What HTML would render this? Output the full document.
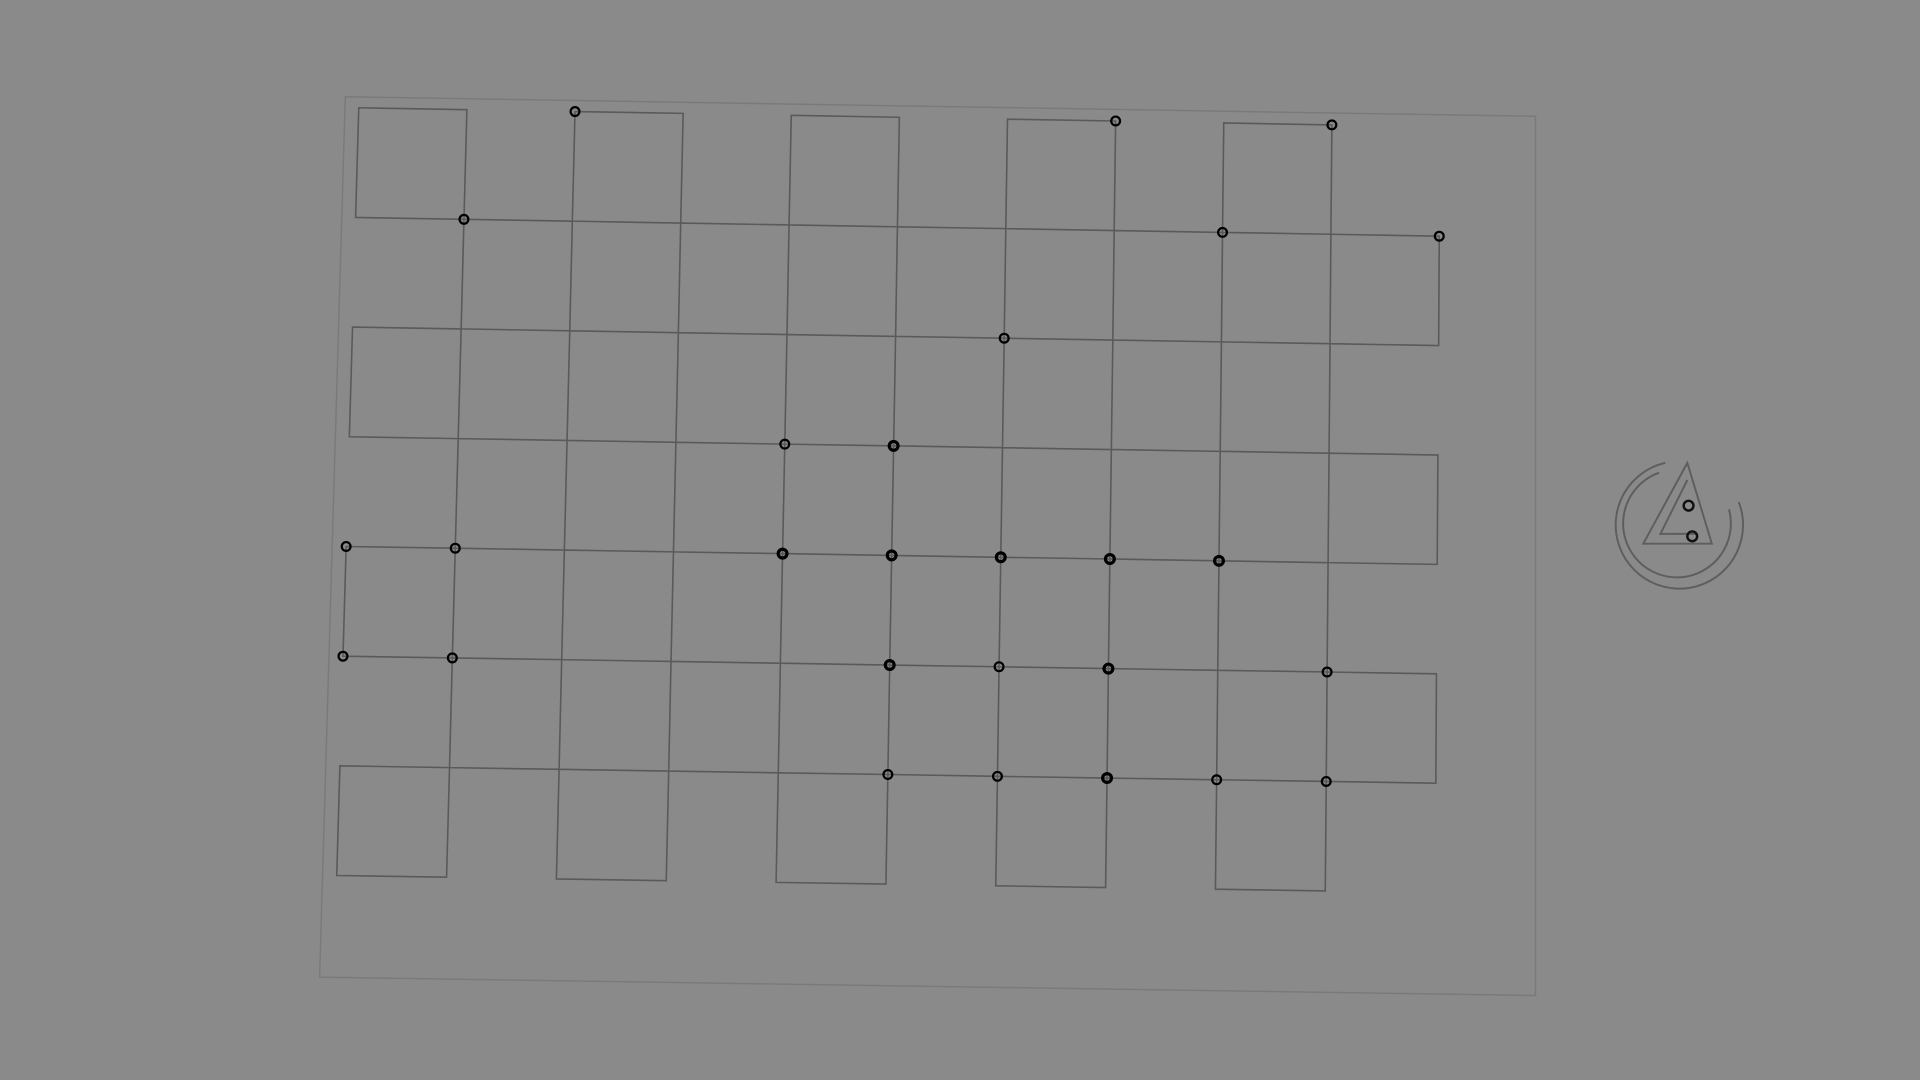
<!DOCTYPE html>
<html><head><meta charset="utf-8"><style>
html,body{margin:0;padding:0;background:#8a8a8a;width:1920px;height:1080px;overflow:hidden;font-family:"Liberation Sans",sans-serif}
svg{display:block}
</style></head><body>
<svg id="chart" width="1920" height="1080" viewBox="0 0 1568 882" xmlns="http://www.w3.org/2000/svg">
<rect x="0" y="0" width="1568" height="882" fill="#8a8a8a"/>
<polygon points="282,79 1254,95 1254,813 261,798" fill="none" stroke="#7a7a7a" stroke-width="1.2"/>
<g id="cells"></g>
<g id="markers"></g>
<g fill="none" stroke="#5e5e5e" stroke-width="1.6">
<path d="M1360,378 A52,52 0 1,0 1420,410"/>
<path d="M1355,386 A44,44 0 1,0 1412,416"/>
<path d="M1378,378 L1342,444 L1398,444 Z"/>
<path d="M1378,392 L1356,436 L1386,436"/>
<circle cx="1379" cy="413" r="4" stroke="#111" stroke-width="2"/>
<circle cx="1382" cy="438" r="4" stroke="#111" stroke-width="2"/>
</g>
</svg>
<script>
// grid geometry (corner points of the 10x7 checkerboard)
const gridCols = 10;
const gridRows = 7;
// marker grid coordinates (column index, row index)
const markerCols = [2,7,9,1,8,10,6,4,5,0,1,4,5,6,7,8,0,1,5,6,7,9,5,6,7,8,9];
const markerRows = [0,0,0,1,1,1,2,3,3,4,4,4,4,4,4,4,5,5,5,5,5,5,6,6,6,6,6];
const markerBold = [0,0,0,0,0,0,0,0,1,0,0,1,1,1,1,1,0,0,1,0,1,0,0,0,1,0,0];

const P00=[293,88],P10=[1176,103.5],P01=[275,715],P11=[1172,729];
function pt(i,j){
  const u=i/gridCols,v=j/gridRows;
  const x=(1-u)*(1-v)*P00[0]+u*(1-v)*P10[0]+(1-u)*v*P01[0]+u*v*P11[0];
  const y=(1-u)*(1-v)*P00[1]+u*(1-v)*P10[1]+(1-u)*v*P01[1]+u*v*P11[1];
  return [x,y];
}
const NS="http://www.w3.org/2000/svg";
const cg=document.getElementById('cells');
for(let r=0;r<gridRows;r++){for(let c=0;c<gridCols;c++){
  if((c+r)%2!==0)continue;
  const p=[pt(c,r),pt(c+1,r),pt(c+1,r+1),pt(c,r+1)];
  const el=document.createElementNS(NS,'polygon');
  el.setAttribute('points',p.map(q=>q[0].toFixed(1)+','+q[1].toFixed(1)).join(' '));
  el.setAttribute('fill','none');el.setAttribute('stroke','#5a5a5a');el.setAttribute('stroke-width','1.3');
  
  
  cg.appendChild(el);
}}
const mg=document.getElementById('markers');
for(let k=0;k<markerCols.length;k++){
  const p=pt(markerCols[k],markerRows[k]);
  const el=document.createElementNS(NS,'circle');
  el.setAttribute('cx',p[0].toFixed(1));el.setAttribute('cy',p[1].toFixed(1));
  el.setAttribute('r','3.6');el.setAttribute('fill','none');el.setAttribute('stroke','#000');
  el.setAttribute('stroke-width',markerBold[k]?'2.6':'1.8');
  
  
  mg.appendChild(el);
}
</script>
</body></html>
